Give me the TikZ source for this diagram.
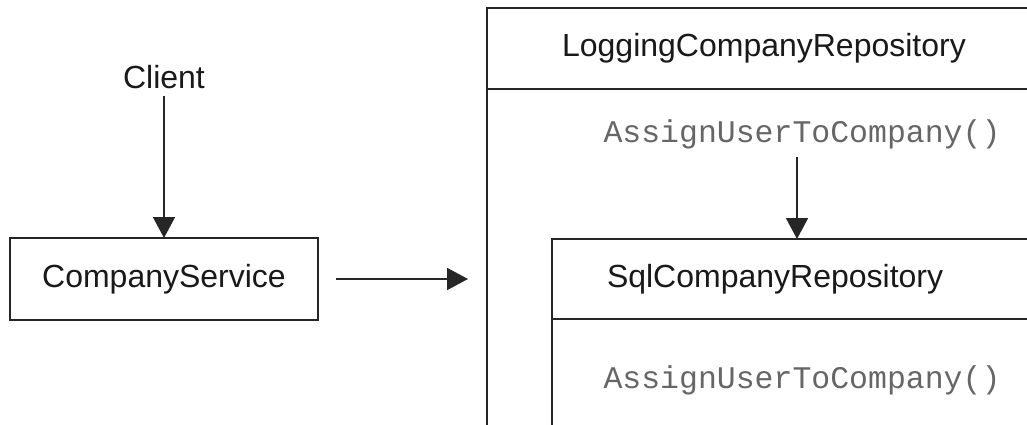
\documentclass[tikz,border=0pt]{standalone}
\usepackage{fontspec}
\setmainfont{Liberation Sans}
\newfontfamily\codefont{Liberation Mono}
\usetikzlibrary{arrows.meta,positioning}

\begin{document}
\begin{tikzpicture}[
    x=1pt,
    y=-1pt,
    box/.style={
        rectangle,
        draw=black!85,
        line width=1.8pt,
        inner sep=0pt,
        outer sep=0pt,
        font=\fontsize{32}{38}\selectfont,
        text=black!90
    },
    label/.style={
        font=\fontsize{32}{38}\selectfont,
        text=black!90,
        inner sep=4pt
    },
    call/.style={
        font=\codefont\fontsize{31.5}{36}\selectfont,
        text=black!60,
        inner sep=4pt
    },
    arrow/.style={
        -{Triangle[length=21pt,width=22pt]},
        line width=1.8pt,
        draw=black!85
    }
]

\useasboundingbox (0,0) rectangle (1027,425);
\clip (0,0) rectangle (1027,425);

% Client side
\node[label] (client) at (164,77) {Client};
\node[box, minimum width=308pt, minimum height=82pt] (service) at (164,279) {CompanyService};

% Decorator and decorated repository
\node[box, anchor=north west, minimum width=554pt, minimum height=81pt] (logHead) at (487,8) {LoggingCompanyRepository};
\node[box, anchor=north west, minimum width=554pt, minimum height=400pt] (logBody) at (logHead.south west) {};
\node[call] (logCall) at (802,134) {AssignUserToCompany()};

\node[box, anchor=north west, text width=390pt, inner xsep=55pt, minimum height=80pt, align=left] (sqlHead) at (552,239) {SqlCompanyRepository};
\node[box, anchor=north west, minimum width=500pt, minimum height=200pt] (sqlBody) at (sqlHead.south west) {};
\node[call] (sqlCall) at (802,380) {AssignUserToCompany()};

% Calls
\draw[arrow, shorten <=3pt] (client.south) -- (service.north);
\draw[arrow, shorten <=18pt, shorten >=19pt] (service.east) -- (service.east -| logBody.west);
\draw[arrow, shorten <=4pt] (logCall.south -| 797,0) -- (sqlHead.north -| 797,0);

\end{tikzpicture}
\end{document}
